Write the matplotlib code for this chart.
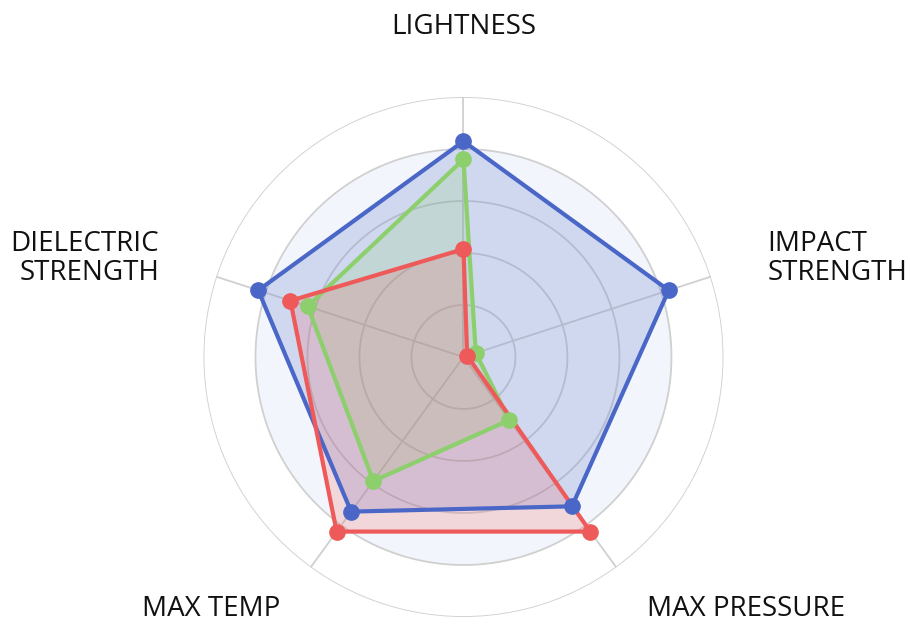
import numpy as np
import matplotlib.pyplot as plt

plt.rcParams['font.family'] = ['Open Sans', 'DejaVu Sans']

categories = ["LIGHTNESS", "IMPACT\nSTRENGTH", "MAX PRESSURE", "MAX TEMP", "DIELECTRIC\nSTRENGTH"]
blue_vals = [83, 83, 71, 73.5, 83]
green_vals = [76, 5, 30, 59, 63]
red_vals = [41.5, 1.5, 83, 83, 70]

series = [
    (blue_vals, "#4a67c8"),
    (green_vals, "#8ccf6c"),
    (red_vals, "#ee5a5a"),
]

fig = plt.figure(figsize=(9.1, 6.25), dpi=100)
ax = fig.add_axes([0.2236, 0.0128, 0.5714, 0.832], projection='polar')
ax.set_theta_offset(np.pi / 2)
ax.set_theta_direction(-1)
ax.set_ylim(0, 100)
ax.grid(False)
ax.set_xticks([])
ax.set_yticks([])
ax.spines['polar'].set_visible(False)
ax.patch.set_alpha(0)

n = len(categories)
angles = np.linspace(0, 2 * np.pi, n, endpoint=False)
circ = np.linspace(0, 2 * np.pi, 361)

# light background inside the 4th ring
ax.fill_between(circ, 0, 80, color="#f2f5fb", zorder=0, lw=0)

# rings and spokes
for r in [20, 40, 60, 80, 100]:
    ax.plot(circ, np.full_like(circ, r), color="#d0d0d0", lw=1.3, zorder=1)
for a in angles:
    ax.plot([a, a], [0, 100], color="#d0d0d0", lw=1.3, zorder=1)

for vals, col in series:
    th = np.append(angles, angles[0])
    v = np.append(vals, vals[0])
    ax.fill(th, v, color=col, alpha=0.2, zorder=2, lw=0)
    ax.plot(th, v, color=col, lw=3, zorder=3, solid_joinstyle='round')
    ax.plot(angles, vals, 'o', color=col, ms=11, zorder=4)

align = [("center", 127), ("left", 123), ("left", 120), ("right", 120), ("right", 123)]
for a, lab, (ha, r) in zip(angles, categories, align):
    ax.text(a, r, lab, ha=ha, va="center", fontsize=20, color="#111111",
            linespacing=1.05, clip_on=False)

fig.savefig("out.png", dpi=100)
